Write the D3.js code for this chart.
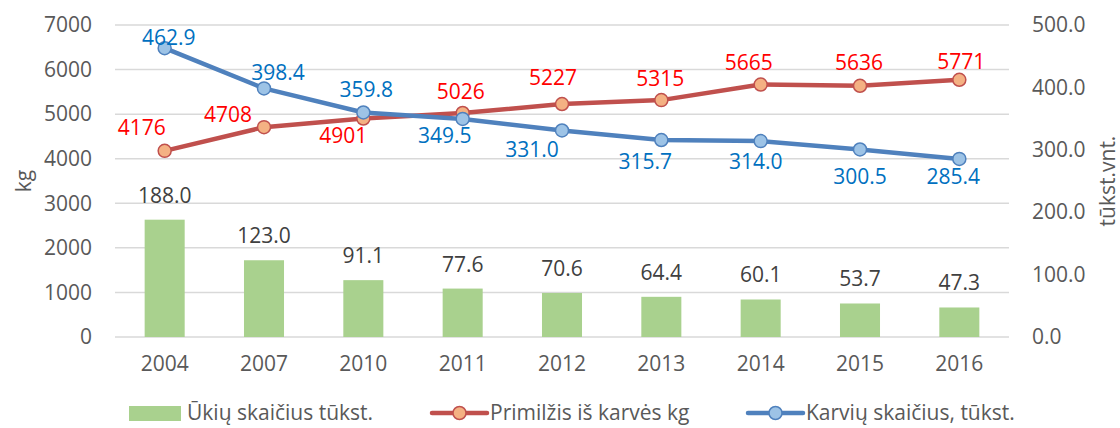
<!DOCTYPE html>
<html>
<head>
<meta charset="utf-8">
<script src="https://cdn.jsdelivr.net/npm/d3@7"></script>
<style>
  body { margin: 0; background: #fff; }
  text { font-family: "Open Sans", sans-serif; }
</style>
</head>
<body>
<div id="chart"></div>
<script>
// data
var years = ["2004", "2007", "2010", "2011", "2012", "2013", "2014", "2015", "2016"];
var farms = [188.0, 123.0, 91.1, 77.6, 70.6, 64.4, 60.1, 53.7, 47.3];           // Ūkių skaičius tūkst.
var milk = [4176, 4708, 4901, 5026, 5227, 5315, 5665, 5636, 5771];              // Primilžis iš karvės kg
var cows = [462.9, 398.4, 359.8, 349.5, 331.0, 315.7, 314.0, 300.5, 285.4];     // Karvių skaičius, tūkst.
var leftTicks = [0, 1000, 2000, 3000, 4000, 5000, 6000, 7000];
var rightTicks = [0, 100, 200, 300, 400, 500];

// label nudges (px from point) as placed in the original
var milkLabelOffset = [[-23, -23], [-36, -13], [-20, 17], [-2, -21], [-9, -26], [-1, -21], [-12, -22], [-1, -23], [2, -18]];
var cowLabelOffset = [[4, -11], [14, -16], [3, -23], [-18, 17], [-30, 19], [-16, 22], [-5, 21], [0, 27], [-6, 18]];

var FS = "21px";
var W = 1120, H = 428;
var margin = {top: 25, right: 111, bottom: 91, left: 115};
var width = W - margin.left - margin.right;
var height = H - margin.top - margin.bottom;

var svg = d3.select("#chart").append("svg")
    .attr("width", W)
    .attr("height", H);

var g = svg.append("g")
    .attr("transform", "translate(" + margin.left + "," + margin.top + ")");

var x = d3.scaleBand().domain(years).range([0, width]).paddingInner(0.597).paddingOuter(0.2985);
var xc = function(d) { return x(d) + x.bandwidth() / 2; };
var yL = d3.scaleLinear().domain([0, 7000]).range([height, 0]);
var yR = d3.scaleLinear().domain([0, 500]).range([height, 0]);

// gridlines
g.selectAll(".grid").data(leftTicks).enter().append("line")
    .attr("class", "grid")
    .attr("x1", 0).attr("x2", width)
    .attr("y1", function(d) { return yL(d); })
    .attr("y2", function(d) { return yL(d); })
    .attr("stroke", "#d9d9d9")
    .attr("stroke-width", 1.5);

// left axis
var leftAxis = g.append("g")
    .call(d3.axisLeft(yL).tickValues(leftTicks).tickSize(0).tickPadding(23).tickFormat(d3.format("d")));
leftAxis.select(".domain").remove();
leftAxis.selectAll("text").attr("fill", "#595959").style("font-size", FS).style("font-family", "Open Sans");

// right axis
var rightAxis = g.append("g")
    .attr("transform", "translate(" + width + ",0)")
    .call(d3.axisRight(yR).tickValues(rightTicks).tickSize(0).tickPadding(23).tickFormat(d3.format(".1f")));
rightAxis.select(".domain").remove();
rightAxis.selectAll("text").attr("fill", "#595959").style("font-size", FS).style("font-family", "Open Sans");

// bottom axis
var bottomAxis = g.append("g")
    .attr("transform", "translate(0," + height + ")")
    .call(d3.axisBottom(x).tickSize(0).tickPadding(19));
bottomAxis.select(".domain").remove();
bottomAxis.selectAll("text").attr("fill", "#595959").style("font-size", FS).style("font-family", "Open Sans");

// axis titles
svg.append("text")
    .attr("transform", "translate(31," + (margin.top + height / 2) + ") rotate(-90)")
    .attr("text-anchor", "middle")
    .attr("fill", "#595959")
    .style("font-size", FS)
    .text("kg");

svg.append("text")
    .attr("transform", "translate(1115," + (margin.top + height / 2) + ") rotate(-90)")
    .attr("text-anchor", "middle")
    .attr("fill", "#595959")
    .style("font-size", FS)
    .text("tūkst.vnt.");

// bars
g.selectAll(".bar").data(farms).enter().append("rect")
    .attr("class", "bar")
    .attr("x", function(d, i) { return x(years[i]); })
    .attr("width", x.bandwidth())
    .attr("y", function(d) { return yR(d); })
    .attr("height", function(d) { return height - yR(d); })
    .attr("fill", "#a9d18e");

g.selectAll(".barLabel").data(farms).enter().append("text")
    .attr("class", "barLabel")
    .attr("x", function(d, i) { return xc(years[i]); })
    .attr("y", function(d) { return yR(d) - 17; })
    .attr("text-anchor", "middle")
    .attr("fill", "#404040")
    .style("font-size", FS)
    .text(function(d) { return d.toFixed(1); });

// lines
function drawSeries(values, yScale, lineColor, fillColor) {
    var line = d3.line()
        .x(function(d, i) { return xc(years[i]); })
        .y(function(d) { return yScale(d); });
    g.append("path")
        .datum(values)
        .attr("d", line)
        .attr("fill", "none")
        .attr("stroke", lineColor)
        .attr("stroke-width", 4.5)
        .attr("stroke-linejoin", "round")
        .attr("stroke-linecap", "round");
    g.append("g").selectAll("circle").data(values).enter().append("circle")
        .attr("cx", function(d, i) { return xc(years[i]); })
        .attr("cy", function(d) { return yScale(d); })
        .attr("r", 6.5)
        .attr("fill", fillColor)
        .attr("stroke", lineColor)
        .attr("stroke-width", 1.5);
}

drawSeries(milk, yL, "#c0504d", "#f4b183");
drawSeries(cows, yR, "#4f81bd", "#9dc3e6");

g.selectAll(".milkLabel").data(milk).enter().append("text")
    .attr("class", "milkLabel")
    .attr("x", function(d, i) { return xc(years[i]) + milkLabelOffset[i][0]; })
    .attr("y", function(d, i) { return yL(d) + milkLabelOffset[i][1]; })
    .attr("dy", "0.35em")
    .attr("text-anchor", "middle")
    .attr("fill", "#ff0000")
    .style("font-size", FS)
    .text(function(d) { return d; });

g.selectAll(".cowLabel").data(cows).enter().append("text")
    .attr("class", "cowLabel")
    .attr("x", function(d, i) { return xc(years[i]) + cowLabelOffset[i][0]; })
    .attr("y", function(d, i) { return yR(d) + cowLabelOffset[i][1]; })
    .attr("dy", "0.35em")
    .attr("text-anchor", "middle")
    .attr("fill", "#0070c0")
    .style("font-size", FS)
    .text(function(d) { return d.toFixed(1); });

// legend
var legend = svg.append("g").attr("transform", "translate(0,413)");

legend.append("rect")
    .attr("x", 129).attr("y", -7).attr("width", 52).attr("height", 15)
    .attr("fill", "#a9d18e");
legend.append("text")
    .attr("x", 187).attr("dy", "0.35em")
    .attr("fill", "#595959").style("font-size", FS)
    .text("Ūkių skaičius tūkst.");

function legendLine(x0, color, fill, label) {
    legend.append("line")
        .attr("x1", x0).attr("x2", x0 + 55)
        .attr("stroke", color).attr("stroke-width", 4.5).attr("stroke-linecap", "round");
    legend.append("circle")
        .attr("cx", x0 + 27.5).attr("r", 6.5)
        .attr("fill", fill).attr("stroke", color).attr("stroke-width", 1.5);
    legend.append("text")
        .attr("x", x0 + 58).attr("dy", "0.35em")
        .attr("fill", "#595959").style("font-size", FS)
        .text(label);
}
legendLine(432, "#c0504d", "#f4b183", "Primilžis iš karvės kg");
legendLine(748, "#4f81bd", "#9dc3e6", "Karvių skaičius, tūkst.");
</script>
</body>
</html>
